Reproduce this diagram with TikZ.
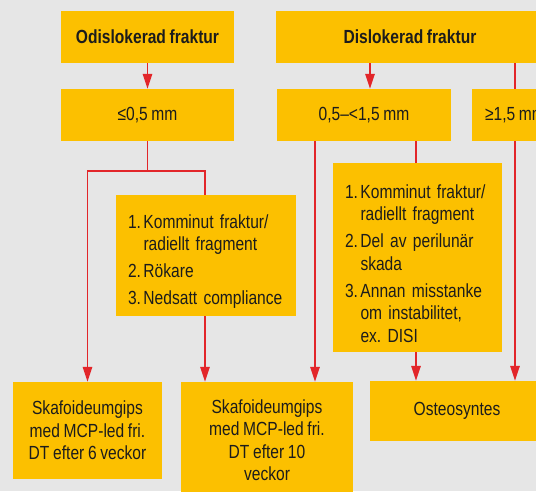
\documentclass[tikz,border=0pt]{standalone}
\usepackage{fontspec}
\setmainfont{Liberation Sans}[FakeStretch=0.82, WordSpace=0.85]
\usetikzlibrary{arrows.meta}
\frenchspacing

\definecolor{hgrund}{HTML}{E6E6E6}
\definecolor{gul}{HTML}{FCC000}
\definecolor{rod}{HTML}{E2262A}
\definecolor{svart}{HTML}{1C1C1C}

\newcommand{\punkt}[2]{\par\hangindent=15.5pt\hangafter=1\noindent\makebox[15.5pt][l]{#1}#2}

\begin{document}
\begin{tikzpicture}[x=1pt, y=-1pt, >={Triangle[length=15pt,width=9.5pt]},
  ruta/.style={fill=gul, text=svart, inner sep=0pt, align=center, font=\fontsize{19}{22.5}\selectfont},
  rubrik/.style={ruta, font=\bfseries\fontsize{19}{22.5}\selectfont},
  lista/.style={fill=gul, text=svart, inner ysep=0pt, inner xsep=12pt, font={\fontsize{19}{22.5}\selectfont\frenchspacing\setlength{\parskip}{4.5pt}}},
  pil/.style={draw=rod, line width=1.6pt, ->},
  linje/.style={draw=rod, line width=1.6pt}]

\useasboundingbox (0,0) rectangle (536,491);
\clip (0,0) rectangle (536,491);
\fill[hgrund] (0,0) rectangle (536,491);

% rubriker
\node[rubrik, minimum width=173pt, minimum height=52pt] (odis) at (147.5,37) {Odislokerad fraktur};
\node[rubrik, minimum width=268pt, minimum height=52pt] (dis) at (410,37) {Dislokerad fraktur};

% dislokation i mm
\node[ruta, minimum width=173pt, minimum height=52pt] (liten) at (147.5,115) {≤0,5 mm};
\node[ruta, minimum width=174pt, minimum height=52pt] (mellan) at (364,115) {0,5–<1,5 mm};
\node[ruta, minimum width=86pt, minimum height=52pt] (stor) at (515,115) {≥1,5 mm};

% behandling
\node[ruta, minimum width=149pt, minimum height=97pt] (gips6) at (87.5,430.5) {Skafoideumgips\\med MCP-led fri.\\DT efter 6 veckor};
\node[ruta, minimum width=172pt, minimum height=116pt] (gips10) at (267,440) {Skafoideumgips\\med MCP-led fri.\\DT efter 10\\veckor};
\node[ruta, minimum width=174pt, minimum height=60pt] (osteo) at (457,411) {Osteosyntes};

% pilar
\draw[pil] (odis) -- (liten);
\coordinate (mellanin) at ([xshift=6pt]mellan.north);
\draw[pil] (dis.south -| mellanin) -- (mellanin);
\draw[linje] (dis.south -| stor.north) -- (stor.north);
\draw[pil] (stor.south) -- (stor.south |- osteo.north);

\draw[linje] (liten.south) -- ++(0,30) coordinate (delning);
\draw[pil] (delning) -| (gips6.north);
\coordinate (gips10in) at ([xshift=-62pt]gips10.north);
\draw[pil] (delning) -| (gips10in);

\coordinate (mellanut1) at ([xshift=-49pt]mellan.south);
\coordinate (mellanut2) at ([xshift=52pt]mellan.south);
\draw[pil] (mellanut1) -- (mellanut1 |- gips10.north);
\draw[pil] (mellanut2) -- (mellanut2 |- osteo.north);

% villkor, ovanpå linjerna
\node[lista, text width=156pt, minimum height=121pt] (villkor1) at (206,255) {%
\punkt{1.}{Komminut fraktur/\newline radiellt fragment}
\punkt{2.}{Rökare}
\punkt{3.}{Nedsatt compliance}\par};
\node[lista, text width=145pt, minimum height=189pt] (villkor2) at (417.5,257) {%
\punkt{1.}{Komminut fraktur/\newline radiellt fragment}
\punkt{2.}{Del av perilunär\newline skada}
\punkt{3.}{Annan misstanke\newline om instabilitet,\newline ex. DISI}\par};

\end{tikzpicture}
\end{document}
